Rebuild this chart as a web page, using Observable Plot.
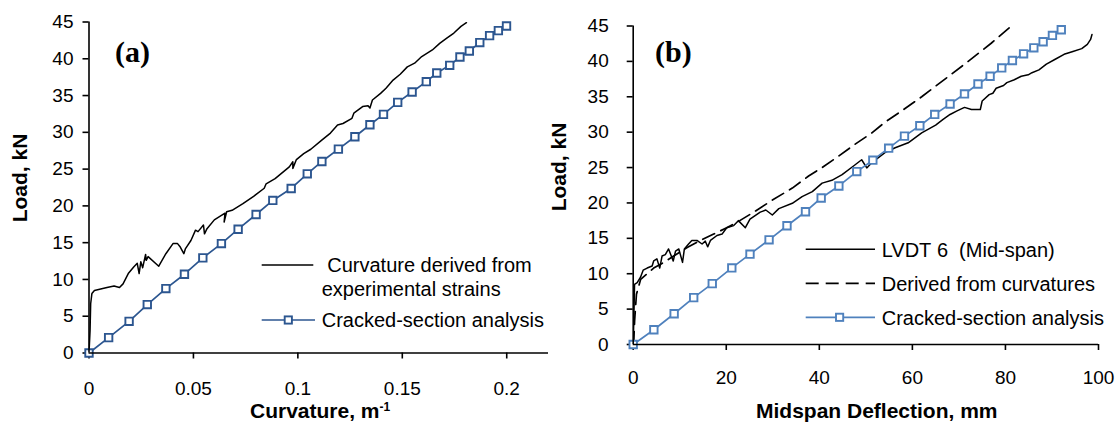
<!DOCTYPE html>
<html><head><meta charset="utf-8">
<script src="https://cdn.jsdelivr.net/npm/d3@7"></script>
<script src="https://cdn.jsdelivr.net/npm/@observablehq/plot@0.6"></script>
<style>
body{margin:0;background:#fff;}
#wrap{position:relative;width:1120px;height:423px;overflow:hidden;}
#wrap svg{position:absolute;top:0;}
#wrap svg g[aria-label$="tick"] path{stroke-width:1.6px;}
</style></head><body><div id="wrap"></div>
<script>
// ---------- data ----------
const loadTicks = [0, 5, 10, 15, 20, 25, 30, 35, 40, 45];
const curvTicks = [0, 0.05, 0.1, 0.15, 0.2];
const deflTicks = [0, 20, 40, 60, 80, 100];

// (a) curvature derived from experimental strains
const aExpX = [0, 0.0005, 0.0008, 0.0014, 0.0026, 0.0086, 0.012, 0.0146, 0.0163, 0.0188,
  0.0214, 0.0231, 0.024, 0.0248, 0.0257, 0.0271, 0.0274, 0.0283, 0.0334, 0.0368,
  0.0403, 0.0423, 0.0437, 0.0454, 0.0462, 0.0488, 0.051, 0.0522, 0.0548, 0.0553,
  0.0565, 0.06, 0.0634, 0.0651, 0.0647, 0.0659, 0.0685, 0.0737, 0.0788, 0.0839,
  0.0848, 0.0891, 0.0959, 0.0976, 0.0976, 0.0993, 0.1028, 0.1062, 0.1113, 0.1156,
  0.119, 0.1216, 0.1259, 0.1268, 0.131, 0.1336, 0.1345, 0.1357, 0.1396, 0.1422,
  0.1456, 0.149, 0.1524, 0.1559, 0.1593, 0.1644, 0.1679, 0.1713, 0.1747, 0.1781,
  0.1807];
const aExpY = [0, 3.0, 6.7, 8.1, 8.5, 8.9, 9.1, 8.9, 9.4, 10.8,
  11.7, 12.2, 10.8, 12.4, 11.6, 13.4, 12.6, 13.1, 11.8, 13.5,
  14.9, 14.9, 14.4, 13.5, 14.2, 15.3, 16.7, 16.5, 17.4, 16.2,
  16.9, 18.1, 18.7, 19.0, 17.8, 19.2, 19.4, 20.3, 21.3, 22.4,
  23.0, 23.7, 25.3, 26.0, 25.1, 26.3, 27.1, 27.7, 28.9, 29.9,
  31.0, 31.2, 31.9, 32.6, 33.5, 33.6, 33.3, 34.4, 35.3, 36.0,
  37.1, 37.9, 38.9, 39.4, 40.3, 41.2, 42.1, 42.8, 43.5, 44.4,
  44.9];

// (a) cracked-section analysis
const aCrackX = [0, 0.0094, 0.0192, 0.0279, 0.0368, 0.0457, 0.0545, 0.0634, 0.0714, 0.08,
  0.088, 0.0968, 0.1045, 0.1115, 0.1194, 0.1273, 0.1345, 0.141, 0.1478, 0.1547,
  0.1615, 0.1665, 0.1727, 0.1776, 0.1821, 0.1871, 0.1918, 0.196, 0.1999];
const aCrackY = [0, 2.09, 4.31, 6.58, 8.76, 10.71, 12.93, 14.88, 16.83, 18.83,
  20.74, 22.37, 24.36, 26.04, 27.72, 29.40, 31.03, 32.44, 34.07, 35.48,
  36.89, 38.07, 39.11, 40.24, 41.06, 42.20, 43.15, 43.83, 44.46];

// (b) LVDT 6 (mid-span)
const bLvdtX = [0, 0.15, 0.29, 0.86, 1.57, 2.14, 3.0, 4.07, 4.4, 5.1,
  5.7, 6.2, 6.9, 7.6, 8.6, 9.1, 9.8, 10.6, 11.0, 11.9,
  12.6, 13.7, 14.8, 15.5, 16.0, 16.6, 18.0, 19.1, 20.1, 21.6,
  22.6, 24.1, 25.1, 26.2, 27.3, 28.5, 29.9, 31.3, 34.2, 36.3,
  38.5, 40.6, 42.7, 44.9, 47.7, 49.1, 50.2, 51.3, 54.1, 56.3,
  59.1, 62.0, 65.0, 66.6, 68.1, 69.6, 71.2, 72.7, 74.6, 75.0,
  76.5, 77.3, 78.0, 79.6, 80.3, 81.9, 83.4, 84.9, 85.7, 87.2,
  88.8, 90.7, 92.6, 94.5, 96.4, 97.6, 98.3, 98.6];
const bLvdtY = [0, 4.0, 8.5, 8.75, 9.5, 10.5, 10.8, 11.1, 11.8, 12.1,
  10.8, 12.5, 12.7, 13.5, 11.8, 13.2, 13.5, 11.6, 13.5, 14.2,
  14.7, 14.7, 14.2, 14.6, 13.8, 14.7, 15.4, 15.6, 16.5, 16.8,
  17.5, 16.5, 17.7, 18.2, 18.7, 19.0, 18.3, 19.2, 19.95, 20.9,
  21.6, 22.8, 23.2, 24.0, 25.4, 26.1, 24.95, 25.7, 27.1, 27.8,
  28.5, 29.9, 31.0, 31.8, 32.5, 33.0, 33.5, 33.2, 33.2, 34.4,
  35.3, 35.5, 36.2, 36.6, 37.0, 37.4, 37.9, 38.1, 38.4, 38.8,
  39.6, 40.3, 41.0, 41.4, 41.8, 42.4, 43.1, 43.8];

// (b) derived from curvatures
const bDerX = [0.1, 0.3, 0.7, 1.6, 3.0, 4.4, 6.6, 8.7, 11.6, 14.4,
  17.3, 20.1, 22.9, 25.9, 29.9, 34.2, 37.7, 40.6, 44.1, 47.7,
  51.3, 54.1, 57.7, 62.0, 67.0, 72.0, 77.0, 81.3];
const bDerY = [0, 3.3, 7.1, 9.2, 10.0, 10.8, 11.6, 12.5, 13.7, 14.7,
  15.6, 16.5, 17.5, 18.7, 20.4, 22.1, 23.8, 25.0, 26.6, 28.3,
  29.9, 31.4, 33.0, 35.0, 37.5, 40.0, 42.6, 45.0];

// (b) cracked-section analysis
const bCrackX = [0, 4.44, 8.80, 13.0, 16.99, 21.19, 25.1, 29.2, 33.05, 37.03,
  40.4, 44.2, 48.05, 51.5, 54.9, 58.3, 61.6, 64.8, 68.1, 71.2,
  74.1, 76.7, 79.2, 81.5, 83.9, 86.1, 88.1, 90.1, 92.0];
const bCrackY = [0, 2.08, 4.35, 6.62, 8.60, 10.82, 12.76, 14.79, 16.78, 18.76,
  20.70, 22.40, 24.43, 26.04, 27.74, 29.44, 30.91, 32.51, 33.98, 35.40,
  36.81, 37.90, 39.08, 40.12, 41.07, 41.92, 42.77, 43.67, 44.47];

const legendA = [" Curvature derived from", "experimental strains", "Cracked-section analysis"];
const legendB = ["LVDT\u00A06\u00A0 (Mid-span)", "Derived from curvatures", "Cracked-section analysis"];

// ---------- helpers ----------
const zip = (xs, ys) => xs.map((x, i) => ({x, y: ys[i]}));
const FONT = '"Liberation Sans", Arial, sans-serif';
const SERIF = '"Liberation Serif", "Times New Roman", serif';
const BLUE_A = "#2c5690";
const BLUE_B = "#4f81bd";

function addText(svg, x, y, str, opts = {}) {
  const t = d3.select(svg).append("text")
    .attr("x", x).attr("y", y)
    .attr("font-family", opts.family || FONT)
    .attr("font-size", opts.size || 20)
    .attr("font-weight", opts.weight || "normal")
    .attr("fill", "#000")
    .attr("text-anchor", opts.anchor || "start");
  if (opts.rotate) t.attr("transform", `rotate(-90 ${x} ${y})`);
  t.text(str);
  return t;
}

// ---------- panel (a) ----------
const crackA = zip(aCrackX, aCrackY);
const plotA = Plot.plot({
  width: 560, height: 423,
  marginLeft: 88.5, marginRight: 12, marginTop: 21.5, marginBottom: 70.5,
  style: {fontFamily: FONT, fontSize: "19px", color: "#000", background: "transparent", overflow: "visible"},
  x: {domain: [0, 0.22], ticks: curvTicks, tickFormat: d => String(d), tickSize: 6, tickPadding: 22.5, label: null},
  y: {domain: [0, 45], ticks: loadTicks, tickSize: 6, tickPadding: 9.5, label: null},
  marks: [
    Plot.line(zip(aExpX, aExpY), {x: "x", y: "y", stroke: "#000", strokeWidth: 1.5, clip: true}),
    Plot.line(crackA, {x: "x", y: "y", stroke: BLUE_A, strokeWidth: 1.7}),
    Plot.dot(crackA, {x: "x", y: "y", symbol: "square", r: 4.2, stroke: BLUE_A, strokeWidth: 1.9, fill: "#fff"}),
    Plot.ruleX([0], {stroke: "#000", strokeWidth: 1.6}),
    Plot.ruleY([0], {stroke: "#000", strokeWidth: 1.6})
  ]
});
plotA.style.left = "0px";
document.getElementById("wrap").appendChild(plotA);

addText(plotA, 115, 61.5, "(a)", {family: SERIF, size: 30, weight: "bold"});
const tA = addText(plotA, 250, 418, "Curvature, m", {size: 21, weight: "bold"});
tA.append("tspan").attr("dy", -7).attr("font-size", 12).text("-1");
addText(plotA, 27, 178, "Load, kN", {size: 21, weight: "bold", anchor: "middle", rotate: true});

// legend (a)
{
  const g = d3.select(plotA).append("g");
  g.append("line").attr("x1", 261.7).attr("x2", 313.3).attr("y1", 265).attr("y2", 265)
    .attr("stroke", "#000").attr("stroke-width", 1.5);
  addText(plotA, 321.7, 272, legendA[0]);
  addText(plotA, 321.7, 296, legendA[1]);
  g.append("line").attr("x1", 261.7).attr("x2", 315).attr("y1", 320).attr("y2", 320)
    .attr("stroke", BLUE_A).attr("stroke-width", 1.7);
  g.append("rect").attr("x", 288.3 - 3.6).attr("y", 320 - 3.6).attr("width", 7.2).attr("height", 7.2)
    .attr("fill", "#fff").attr("stroke", BLUE_A).attr("stroke-width", 1.9);
  addText(plotA, 321.7, 327, legendA[2]);
}

// ---------- panel (b) ----------
const crackB = zip(bCrackX, bCrackY);
const plotB = Plot.plot({
  width: 560, height: 423,
  marginLeft: 72.7, marginRight: 22, marginTop: 25.5, marginBottom: 79,
  style: {fontFamily: FONT, fontSize: "19px", color: "#000", background: "transparent", overflow: "visible"},
  x: {domain: [0, 100], ticks: deflTicks, tickSize: 6, tickPadding: 20, label: null},
  y: {domain: [0, 45], ticks: loadTicks, tickSize: 6, tickPadding: 18.5, label: null},
  marks: [
    Plot.line(zip(bDerX, bDerY), {x: "x", y: "y", stroke: "#000", strokeWidth: 1.7, strokeDasharray: "13,7", clip: true}),
    Plot.line(zip(bLvdtX, bLvdtY), {x: "x", y: "y", stroke: "#000", strokeWidth: 1.5, clip: true}),
    Plot.line(crackB, {x: "x", y: "y", stroke: BLUE_B, strokeWidth: 1.7}),
    Plot.dot(crackB, {x: "x", y: "y", symbol: "square", r: 4.2, stroke: BLUE_B, strokeWidth: 1.9, fill: "#fff"}),
    Plot.ruleX([0], {stroke: "#000", strokeWidth: 1.6}),
    Plot.ruleY([0], {stroke: "#000", strokeWidth: 1.6})
  ]
});
plotB.style.left = "560px";
document.getElementById("wrap").appendChild(plotB);

addText(plotB, 95, 61.5, "(b)", {family: SERIF, size: 30, weight: "bold"});
addText(plotB, 196, 418, "Midspan Deflection, mm", {size: 21, weight: "bold"});
addText(plotB, 6, 167, "Load, kN", {size: 21, weight: "bold", anchor: "middle", rotate: true});

// legend (b)
{
  const g = d3.select(plotB).append("g");
  g.append("line").attr("x1", 245.7).attr("x2", 315).attr("y1", 249.3).attr("y2", 249.3)
    .attr("stroke", "#000").attr("stroke-width", 1.5);
  addText(plotB, 321.7, 256.5, legendB[0]);
  g.append("line").attr("x1", 245.7).attr("x2", 315).attr("y1", 283.3).attr("y2", 283.3)
    .attr("stroke", "#000").attr("stroke-width", 1.7).attr("stroke-dasharray", "13,7");
  addText(plotB, 321.7, 290.5, legendB[1]);
  g.append("line").attr("x1", 245.7).attr("x2", 315).attr("y1", 317.3).attr("y2", 317.3)
    .attr("stroke", BLUE_B).attr("stroke-width", 1.7);
  g.append("rect").attr("x", 279.6 - 3.6).attr("y", 317.3 - 3.6).attr("width", 7.2).attr("height", 7.2)
    .attr("fill", "#fff").attr("stroke", BLUE_B).attr("stroke-width", 1.9);
  addText(plotB, 321.7, 324.5, legendB[2]);
}
</script></body></html>
